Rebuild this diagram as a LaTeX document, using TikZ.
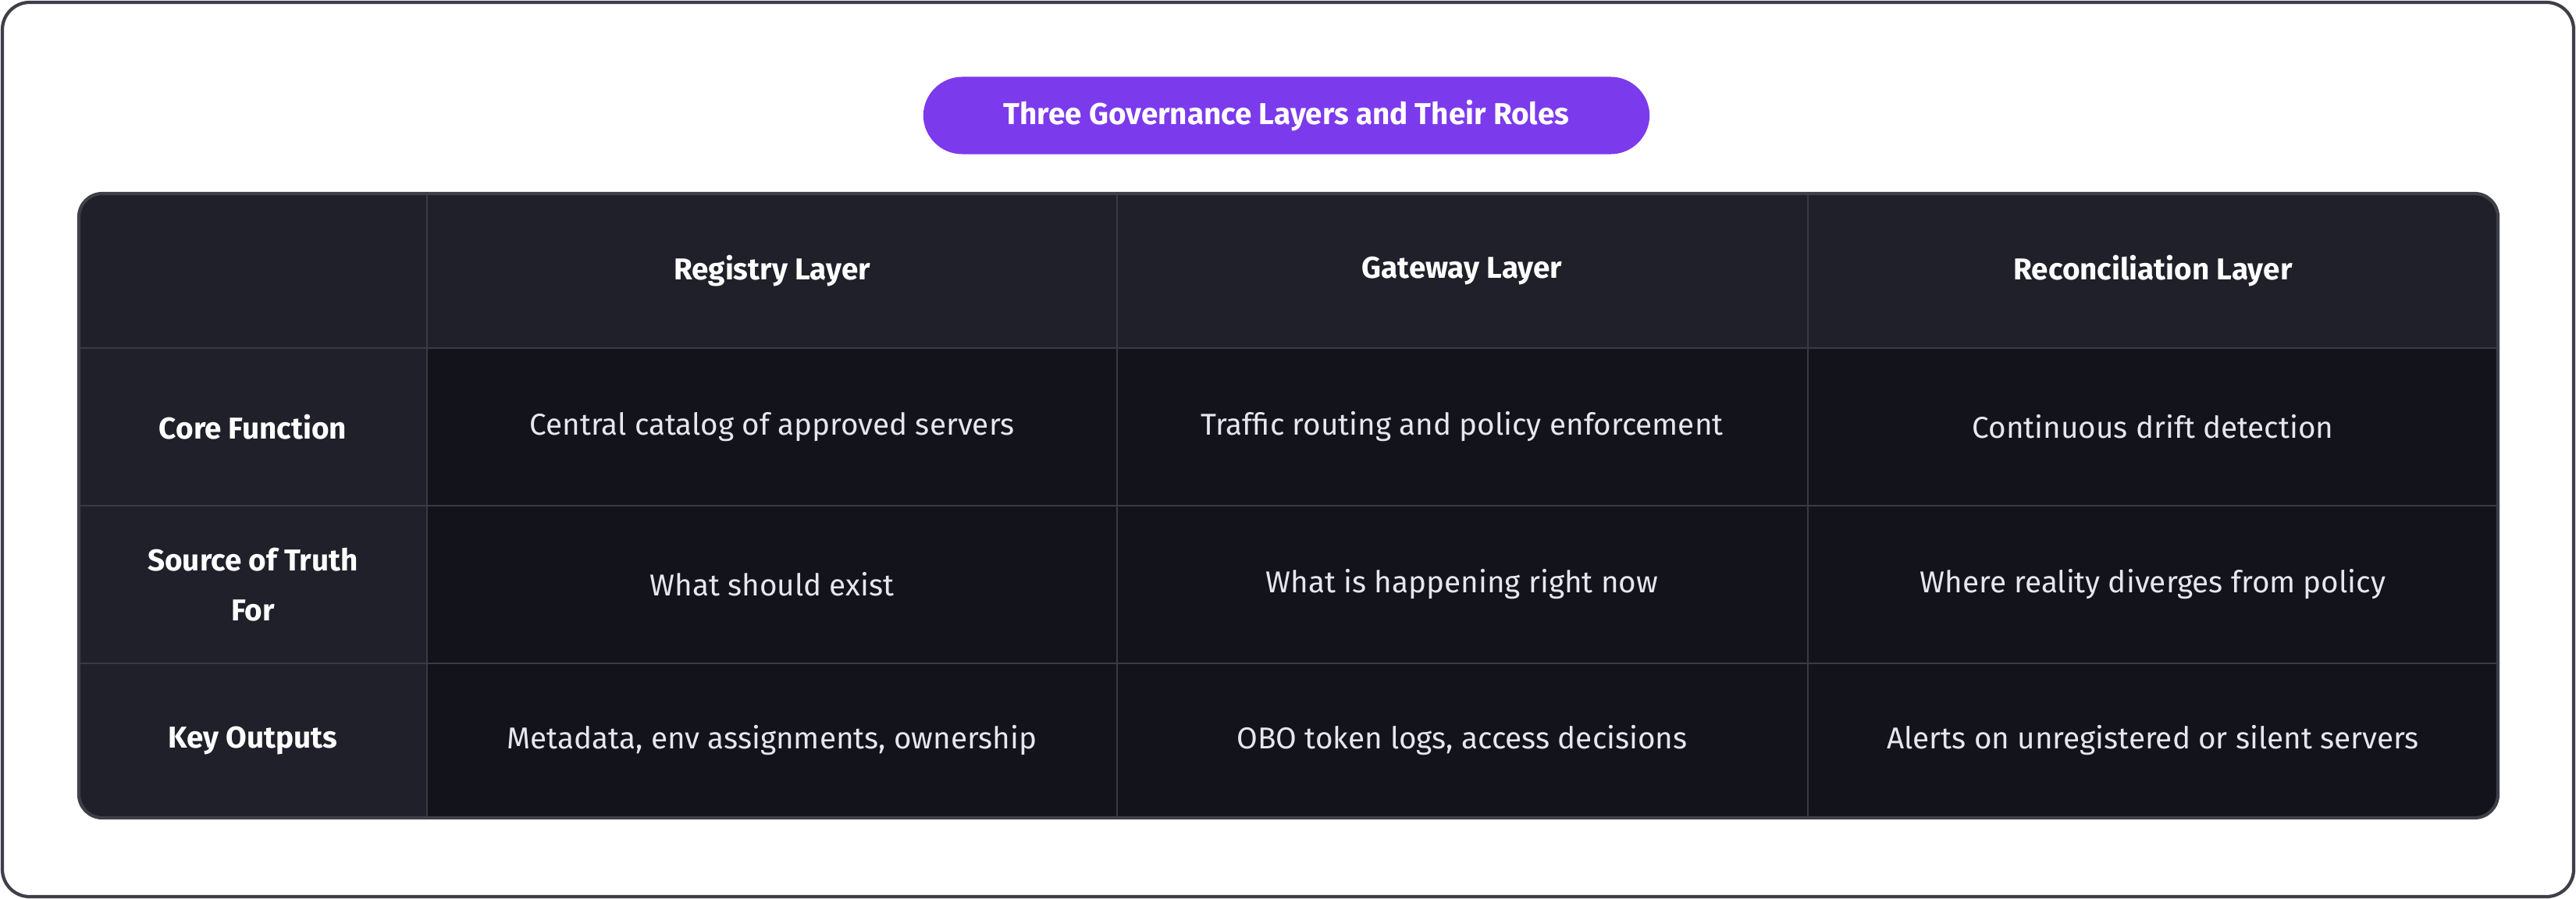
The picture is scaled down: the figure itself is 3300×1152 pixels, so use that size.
\documentclass[tikz,border=0pt]{standalone}
\usepackage{fontspec}
\setmainfont{Fira Sans}
\usetikzlibrary{positioning}
\definecolor{frame}{HTML}{3F3F4A}
\definecolor{headbg}{HTML}{20202A}
\definecolor{bodybg}{HTML}{13131C}
\definecolor{grid}{HTML}{3A3A46}
\definecolor{pill}{HTML}{7C3AED}
\definecolor{txt}{HTML}{E6E6EC}

\begin{document}
\begin{tikzpicture}[x=0.01cm, y=-0.01cm,
    head/.style={text=white, font=\fontsize{11}{14}\selectfont\bfseries, align=center},
    cell/.style={text=txt, font=\fontsize{11}{14}\selectfont, align=center}]
    \useasboundingbox (0,0) rectangle (3300,1152);
    \draw[frame, line width=1.2pt, rounded corners=0.35cm, fill=white] (3,3) rectangle (3297,1149);

    % title
    \node[fill=pill, rounded corners=0.5cm, minimum width=9.3cm, minimum height=0.99cm,
          text=white, font=\fontsize{11}{14}\selectfont\bfseries] (title) at (1648,148)
          {Three Governance Layers and Their Roles};

    % table background
    \fill[bodybg, rounded corners=0.3cm] (101,248) rectangle (3200,1048);
    \begin{scope}
      \clip[rounded corners=0.3cm] (101,248) rectangle (3200,1048);
      \fill[headbg] (101,248) rectangle (3200,446);
      \fill[headbg] (101,248) rectangle (547,1048);
    \end{scope}
    \foreach \x in {547,1431,2316}
      \draw[grid, line width=0.8pt] (\x,248) -- (\x,1048);
    \foreach \y in {446,648,850}
      \draw[grid, line width=0.8pt] (101,\y) -- (3200,\y);
    \draw[frame, line width=1.2pt, rounded corners=0.3cm] (101,248) rectangle (3200,1048);

    % header row
    \node[head] (reg) at (989,347) {Registry Layer};
    \node[head] (gw) at (1873,347) {Gateway Layer};
    \node[head] (rec) at (2758,347) {Reconciliation Layer};

    % row labels
    \node[head] (core) at (324,547) {Core Function};
    \node[head] (truth) at (324,749) {Source of Truth\\[4pt]For};
    \node[head] (keys) at (324,949) {Key Outputs};

    % cells
    \node[cell] (c11) at (989,547) {Central catalog of approved servers};
    \node[cell] (c12) at (1873,547) {Traffic routing and policy enforcement};
    \node[cell] (c13) at (2758,547) {Continuous drift detection};
    \node[cell] (c21) at (989,749) {What should exist};
    \node[cell] (c22) at (1873,749) {What is happening right now};
    \node[cell] (c23) at (2758,749) {Where reality diverges from policy};
    \node[cell] (c31) at (989,949) {Metadata, env assignments, ownership};
    \node[cell] (c32) at (1873,949) {OBO token logs, access decisions};
    \node[cell] (c33) at (2758,949) {Alerts on unregistered or silent servers};
\end{tikzpicture}
\end{document}
